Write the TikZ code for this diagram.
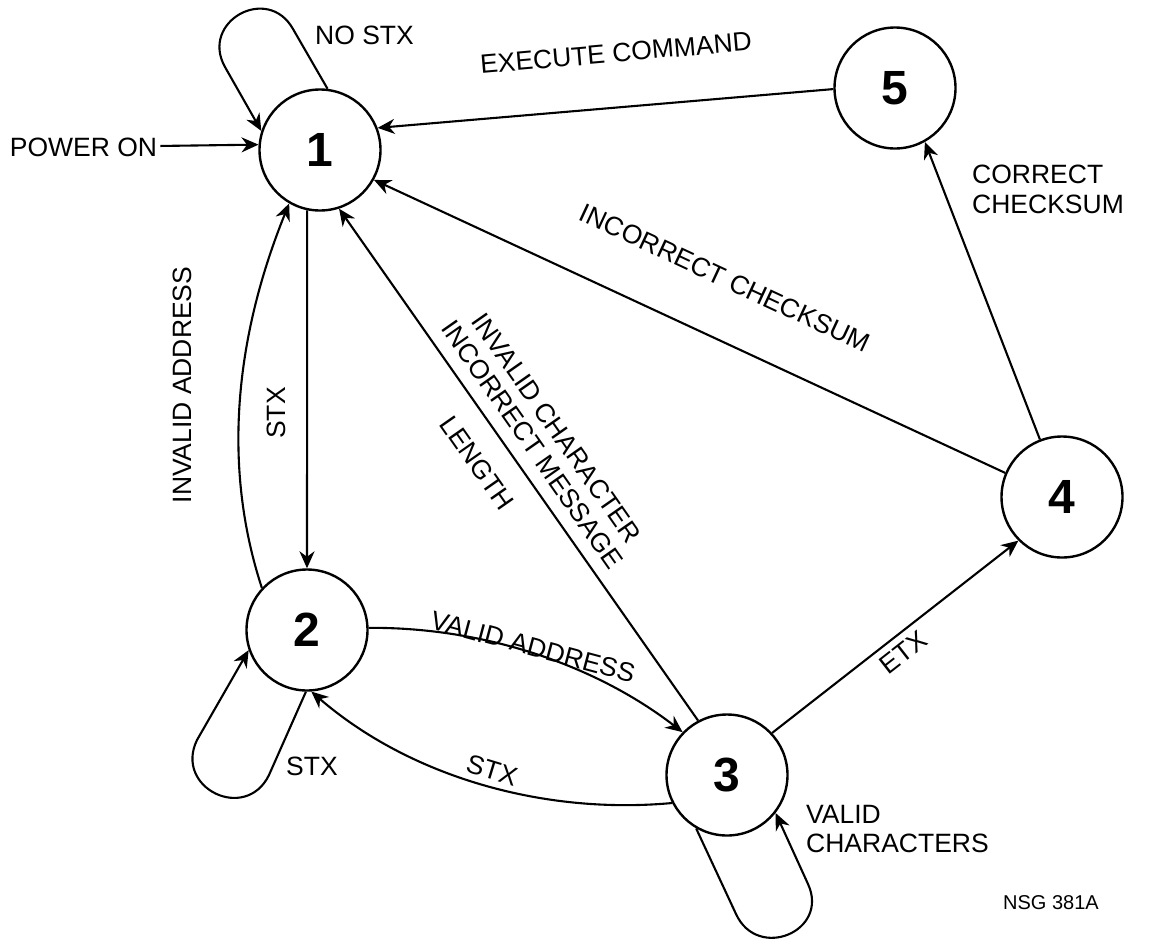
\documentclass[tikz,border=0pt]{standalone}
\usepackage{fontspec}
\setmainfont{Liberation Sans}
\usetikzlibrary{arrows.meta}
\begin{document}
\tikzset{
  state/.style={circle, draw, line width=2.4pt, minimum size=121pt, inner sep=0pt,
    font=\fontsize{48}{48}\selectfont\bfseries},
  lbl/.style={inner sep=0pt, font=\fontsize{26.5}{29.5}\selectfont},
  small/.style={inner sep=0pt, font=\fontsize{20}{24}\selectfont},
  edge/.style={line width=2.1pt, -{Stealth[length=17pt,width=15pt,inset=5.5pt]}},
}
\begin{tikzpicture}[x=1pt,y=-1pt]
\useasboundingbox[fill=white] (0,0) rectangle (1156,940);

% states
\node[state] (n1) at (320,150) {1};
\node[state] (n2) at (307,630) {2};
\node[state] (n3) at (727,775) {3};
\node[state] (n4) at (1062,497) {4};
\node[state] (n5) at (895,88) {5};

% entry
\node[lbl, inner xsep=3pt] (pw) at (83.5,147) {POWER ON};
\draw[edge] (pw) -- (n1.175);

% self loops
\draw[edge] (n1.83) -- (293,29) .. controls (267.6,-16.3) and (199.6,21.7) .. (225,67) -- (n1.162);
\draw[edge] (n2.269) -- (269,775) .. controls (245.7,823) and (173.7,788) .. (197,740) -- (n2.199);
\draw[edge] (n3.240) -- (736,914) .. controls (757.7,961.3) and (829.7,931.3) .. (808,884) -- (n3.322);

% transitions
\draw[edge] (n1.258) -- (n2.90);
\draw[edge] (n2.137) .. controls (220,460) and (238,330) .. (n1.240);
\draw[edge] (n2.2) .. controls (477,627) and (590,661) .. (n3.136);
\draw[edge] (n3.207) .. controls (542,815) and (409,776) .. (n2.274);
\draw[edge] (n3.118) -- (n1.288);
\draw[edge] (n3.43) -- (n4.225);
\draw[edge] (n4.157) -- (n1.331);
\draw[edge] (n4.111) -- (n5.299);
\draw[edge] (n5.181) -- (n1.21);

% labels
\node[lbl] (lnostx) at (364.5,35.5) {NO STX};
\node[lbl, rotate=90] (lstxa) at (276,413) {STX};
\node[lbl, rotate=90] (linvad) at (182,385) {INVALID ADDRESS};
\node[lbl, rotate=-55, align=center] (linvch) at (544.5,436.4) {INVALID CHARACTER\\INCORRECT MESSAGE};
\node[lbl, rotate=-55] (llen) at (477,463) {LENGTH};
\node[lbl, rotate=-25] (lincs) at (725,278) {INCORRECT CHECKSUM};
\node[lbl, rotate=5] (lexec) at (616,53) {EXECUTE COMMAND};
\node[lbl, align=left, anchor=north west] (lcorr) at (972,165) {CORRECT\\CHECKSUM};
\node[lbl, rotate=38] (letx) at (903,652) {ETX};
\node[lbl, rotate=-15] (lvad) at (533,647) {VALID ADDRESS};
\node[lbl, rotate=-17] (lstxb) at (492,770) {STX};
\node[lbl] (lstxc) at (312,766) {STX};
\node[lbl, align=left, anchor=north west] (lvch) at (806,805) {VALID\\CHARACTERS};
\node[small] (lnsg) at (1051,903) {NSG 381A};
\end{tikzpicture}
\end{document}
